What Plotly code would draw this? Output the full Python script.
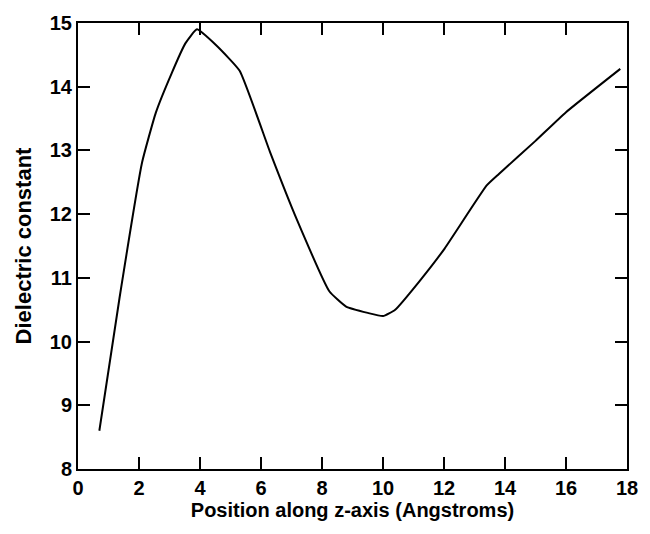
import plotly.graph_objects as go

x_pos = [0.7, 1.36, 2.1, 2.55, 3.07, 3.52, 3.9, 4.53, 5.3, 6.3, 7.18, 8.24, 8.79, 9.5, 10.0, 10.4, 11.2, 12.02, 13.4, 13.8, 15.0, 16.0, 17.78]
eps = [8.6, 10.68, 12.81, 13.59, 14.21, 14.68, 14.9, 14.65, 14.25, 12.97, 11.91, 10.79, 10.55, 10.45, 10.4, 10.5, 10.95, 11.46, 12.45, 12.63, 13.15, 13.6, 14.28]

x_ticks = [0, 2, 4, 6, 8, 10, 12, 14, 16, 18]
y_ticks = [8, 9, 10, 11, 12, 13, 14, 15]

fig = go.Figure(go.Scatter(x=x_pos, y=eps, mode="lines", line=dict(color="black", width=2, shape="spline", smoothing=0.4)))

fam = "Liberation Sans, Arial, sans-serif"
axis_common = dict(showline=True, linecolor="black", linewidth=2, mirror="allticks", ticks="inside",
                   ticklen=12, tickwidth=2, tickcolor="black", showgrid=False, zeroline=False,
                   tickfont=dict(family=fam, size=20, color="black"))

fig.update_layout(
    width=650, height=534,
    margin=dict(l=78, r=15, t=19, b=65),
    plot_bgcolor="white", paper_bgcolor="white",
    showlegend=False,
    font=dict(family=fam, size=16, color="black"),
    xaxis=dict(range=[0, 18], tickvals=x_ticks, ticktext=[f"<b>{v}</b>" for v in x_ticks],
               title=dict(text="<b>Position along z-axis (Angstroms)</b>", font=dict(size=20), standoff=3),
               **axis_common),
    yaxis=dict(range=[8, 15], tickvals=y_ticks, ticktext=[f"<b>{v}</b>" for v in y_ticks],
               title=dict(text="<b>Dielectric constant</b>", font=dict(size=22), standoff=12),
               **axis_common),
)

fig.write_html("out.html")
